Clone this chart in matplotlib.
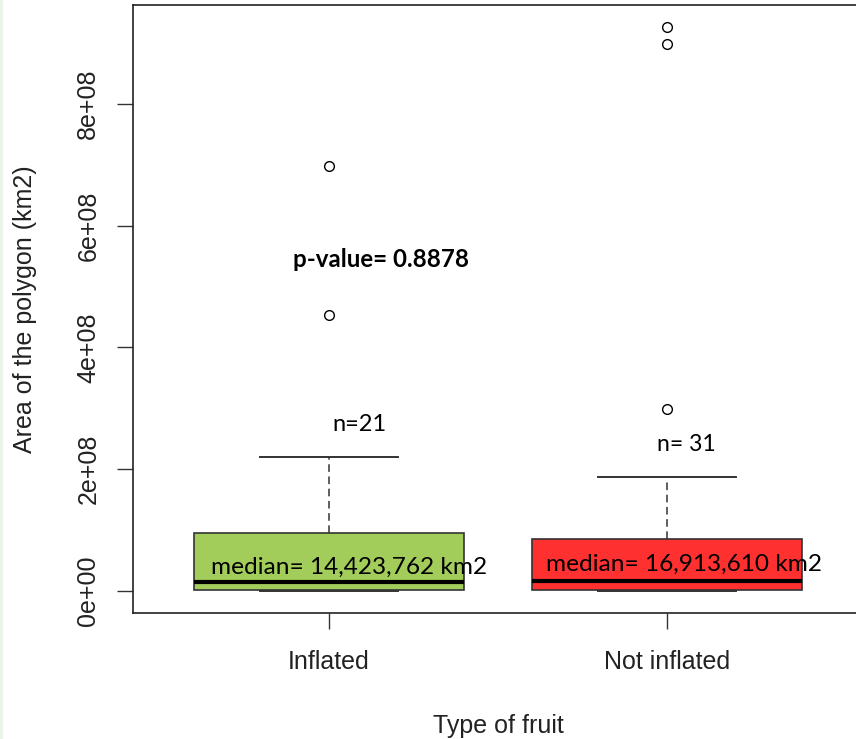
import matplotlib
matplotlib.use('Agg')
import matplotlib.pyplot as plt
from matplotlib.patches import Rectangle

# ---- data ----
groups = ['Inflated', 'Not inflated']
q1 = [2.0e6, 2.5e6]
med = [14423762, 16913610]
q3 = [9.5e7, 8.5e7]
whislo = [0.0, 0.0]
whishi = [2.20e8, 1.87e8]
fliers = [[4.53e8, 6.98e8], [2.99e8, 8.98e8, 9.26e8]]
n_obs = [21, 31]
p_value = 0.8878
box_colors = ['#a2cd5a', '#ff3030']

stats = []
for i in range(len(groups)):
    stats.append(dict(label=groups[i], q1=q1[i], med=med[i], q3=q3[i],
                      whislo=whislo[i], whishi=whishi[i], fliers=fliers[i]))

fig = plt.figure(figsize=(8.56, 7.39), dpi=100)
# faint green strip on the left edge of the screenshot
fig.patches.append(Rectangle((0, 0), 3/856, 1, transform=fig.transFigure,
                             facecolor='#e8f5e8', edgecolor='none'))
ax = fig.add_axes([133/856, 126/739, 730/856, 608/739])

bp = ax.bxp(stats, positions=[1, 2], widths=0.8, patch_artist=True,
            showfliers=True,
            boxprops=dict(edgecolor='#333333', linewidth=1.2),
            medianprops=dict(color='black', linewidth=3.0, solid_capstyle='butt'),
            whiskerprops=dict(color='#333333', linestyle=(0, (5, 3)), linewidth=1.1),
            capprops=dict(color='#333333', linewidth=1.4),
            flierprops=dict(marker='o', markerfacecolor='none',
                            markeredgecolor='black', markersize=7, markeredgewidth=1.0))
for patch, c in zip(bp['boxes'], box_colors):
    patch.set_facecolor(c)
for cap in bp['caps']:
    xd = cap.get_xdata()
    mid = (xd[0] + xd[1]) / 2
    cap.set_xdata([mid - 0.205, mid + 0.205])

rfont = ['Liberation Sans', 'DejaVu Sans']
ax.set_xlim(0.42, 2.58)
ax.set_ylim(-0.36e8, 9.62e8)
ax.set_yticks([0, 2e8, 4e8, 6e8, 8e8])
ax.set_yticklabels(['0e+00', '2e+08', '4e+08', '6e+08', '8e+08'],
                   rotation=90, va='center', fontsize=18, family=rfont,
                   color='#222222')
ax.set_xticks([1, 2])
ax.set_xticklabels(groups, fontsize=18, family=rfont, color='#222222')
ax.tick_params(axis='both', length=11.5, width=1.0, color='#333333')
ax.tick_params(axis='y', pad=12)
ax.tick_params(axis='x', pad=15)
for s in ax.spines.values():
    s.set_linewidth(1.2)
    s.set_color('#222222')

ax.set_xlabel('Type of fruit', fontsize=18, family=rfont, labelpad=29,
              color='#222222')
ax.set_ylabel('Area of the polygon (km2)', fontsize=18, family=rfont,
              labelpad=28, color='#222222')

tfont = ['Lato', 'DejaVu Sans']
ax.text(1.09, 2.73e8, 'n=%d' % n_obs[0], fontsize=17, family=tfont,
        ha='center', va='center')
ax.text(2.056, 2.41e8, 'n= %d' % n_obs[1], fontsize=16.6, family=tfont,
        ha='center', va='center')
ax.text(1.154, 5.45e8, 'p-value= %.4f' % p_value, fontsize=17.4, family=tfont,
        fontweight='bold', ha='center', va='center')
ax.text(1.06, 0.39e8, 'median= {:,} km2'.format(med[0]), fontsize=17.6, family=tfont,
        ha='center', va='center')
ax.text(2.05, 0.44e8, 'median= {:,} km2'.format(med[1]), fontsize=17.6, family=tfont,
        ha='center', va='center')

fig.savefig('out.png', dpi=100)
